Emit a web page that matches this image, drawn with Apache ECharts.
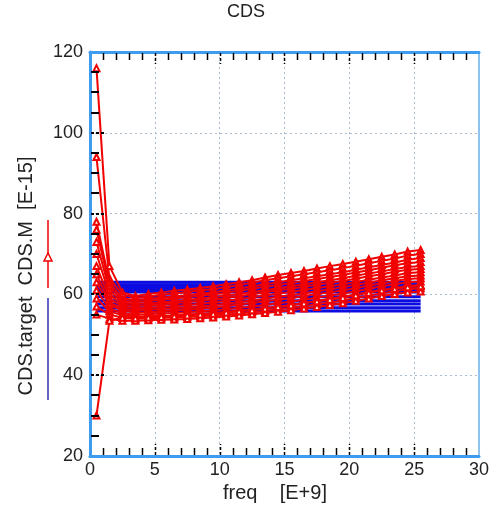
<!DOCTYPE html>
<html><head><meta charset="utf-8">
<script src="https://cdn.jsdelivr.net/npm/echarts@6/dist/echarts.min.js"></script>
<style>html,body{margin:0;padding:0;background:#fff}#c{width:492px;height:510px}</style>
</head><body><div id="c"></div><script>
// ---- data ----
const freq = [0.5,1.5,2.5,3.5,4.5,5.5,6.5,7.5,8.5,9.5,10.5,11.5,12.5,13.5,14.5,15.5,16.5,17.5,18.5,19.5,20.5,21.5,22.5,23.5,24.5,25.5];
const mA = [116,67,60.5, 59.6,60.1,60.5,60.9,61.2,61.6,62.0,62.5,63.0,63.5,64.2,64.8,65.3,65.8,66.4,67.0,67.5,68.1,68.7,69.3,69.9,70.6,71.0];
const mB = [94,64,60, 59.1,59.5,59.9,60.2,60.6,61.0,61.3,61.8,62.3,62.9,63.5,64.0,64.5,65.0,65.5,66.0,66.5,67.1,67.7,68.3,68.9,69.6,70.0];
const mC = [78,63,59, 58.6,58.9,59.2,59.5,59.8,60.2,60.5,61.0,61.5,62.0,62.5,63.0,63.5,64.0,64.5,65.0,65.5,66.1,66.7,67.3,67.9,68.6,69.0];
const mD = [76,62,58.5, 58.1,58.4,58.7,59.0,59.3,59.7,60.0,60.4,60.9,61.4,61.9,62.3,62.8,63.3,63.8,64.3,64.8,65.4,66.0,66.6,67.2,67.7,68.0];
const mE = [73,61,58, 57.6,57.8,58.0,58.3,58.6,59.0,59.3,59.7,60.1,60.6,61.0,61.5,62.0,62.5,63.0,63.5,64.0,64.6,65.2,65.7,66.3,66.8,67.0];
const mF = [70,60,57.5, 57.1,57.3,57.5,57.8,58.1,58.4,58.7,59.1,59.6,60.0,60.5,61.0,61.4,61.9,62.4,62.9,63.3,63.9,64.5,65.0,65.6,66.1,66.3];
const mG = [67,59,57, 56.5,56.7,56.9,57.1,57.4,57.7,58.0,58.4,58.8,59.3,59.7,60.2,60.6,61.1,61.6,62.0,62.5,63.1,63.6,64.2,64.7,65.3,65.5];
const mH = [65,58,56.5, 56.0,56.2,56.4,56.6,56.8,57.0,57.3,57.7,58.1,58.5,58.9,59.4,59.8,60.3,60.8,61.3,61.8,62.4,62.9,63.5,64.0,64.5,64.7];
const mI = [63,57.5,56, 55.5,55.6,55.8,56.0,56.2,56.5,56.7,57.1,57.5,57.9,58.3,58.7,59.1,59.6,60.1,60.5,61.0,61.6,62.2,62.7,63.3,63.8,64.0];
const mJ = [61,56.5,55.3, 55.0,55.1,55.3,55.4,55.6,55.8,56.0,56.3,56.7,57.0,57.4,57.8,58.2,58.7,59.2,59.7,60.2,60.8,61.4,62.0,62.5,63.0,63.2];
const mK = [59,55.8,54.8, 54.5,54.6,54.7,54.8,55.0,55.2,55.4,55.7,56.0,56.3,56.6,57.0,57.4,57.9,58.4,58.9,59.4,60.0,60.6,61.1,61.6,62.1,62.3];
const mL = [57,55,54.2, 54.0,54.1,54.2,54.3,54.4,54.6,54.8,55.0,55.3,55.6,55.9,56.3,56.7,57.1,57.6,58.0,58.5,59.1,59.7,60.3,60.8,61.3,61.5];
const mM = [55,54,53.5, 53.5,53.6,53.7,53.8,53.9,54.1,54.3,54.5,54.8,55.1,55.4,55.7,56.1,56.5,56.9,57.4,57.8,58.4,59.0,59.6,60.1,60.5,60.7];
const mN = [30,53.5,54.2, 54.1,54.3,54.4,54.6,54.8,55.0,55.2,55.5,55.8,56.1,56.5,56.9,57.3,57.8,58.3,58.7,59.2,59.8,60.4,61.0,61.4,61.8,62.0];
const cdsM = [mA,mB,mC,mD,mE,mF,mG,mH,mI,mJ,mK,mL,mM,mN];
const targetFreq = [0.5, 25.5];
const cdsTarget = [55.9,56.7,57.6,58.4,59.4,60.6,61.2,61.8,62.4,63.0];
const xTicks = [0,5,10,15,20,25,30];
const yTicks = [20,40,60,80,100,120];

const FONT = "'Liberation Sans', Arial, sans-serif";
const RED = '#f00000', BLUE = '#0c0ce0', FRAME = '#3d9bf0';

const series = [];
cdsTarget.forEach(v => {
  series.push({type:'line', name:'CDS.target', data: targetFreq.map(f => [f, v]),
    showSymbol:false, lineStyle:{color:BLUE, width:3}, itemStyle:{color:BLUE}, z:2, silent:true});
});
cdsM.forEach(arr => {
  series.push({type:'line', name:'CDS.M', data: freq.map((f,i) => [f, arr[i]]).filter(p => p[1] != null),
    symbol:'emptyTriangle', symbolSize:6, showSymbol:true,
    lineStyle:{color:RED, width:2}, itemStyle:{color:RED, borderColor:RED, borderWidth:2}, z:3, silent:true});
});

const chart = echarts.init(document.getElementById('c'), null, {renderer:'canvas'});
chart.setOption({
  animation:false,
  backgroundColor:'#fff',
  grid:{left:90, top:52, right:10, bottom:54, containLabel:false},
  xAxis:[{
    type:'value', min:xTicks[0], max:xTicks[xTicks.length-1], interval:5, position:'bottom',
    axisLine:{show:true, onZero:false, lineStyle:{color:FRAME, width:3}},
    axisTick:{show:false},
    axisLabel:{color:'#222', fontSize:18, fontFamily:FONT, margin:5},
    splitLine:{show:true, lineStyle:{color:'#a9bccf', width:1, type:[2,3]}}
  },{
    type:'value', min:xTicks[0], max:xTicks[xTicks.length-1], interval:5, position:'top',
    axisLine:{show:true, onZero:false, lineStyle:{color:FRAME, width:3}},
    axisTick:{show:false}, axisLabel:{show:false}, splitLine:{show:false}
  }],
  yAxis:[{
    type:'value', min:yTicks[0], max:yTicks[yTicks.length-1], interval:20, position:'left',
    axisLine:{show:true, onZero:false, lineStyle:{color:FRAME, width:3}},
    axisTick:{show:false},
    axisLabel:{color:'#222', fontSize:18, fontFamily:FONT, margin:7},
    splitLine:{show:true, lineStyle:{color:'#a9bccf', width:1, type:[2,3]}}
  },{
    type:'value', min:yTicks[0], max:yTicks[yTicks.length-1], interval:20, position:'right',
    axisLine:{show:true, onZero:false, lineStyle:{color:'#8fc3ef', width:2}},
    axisTick:{show:false}, axisLabel:{show:false}, splitLine:{show:false}
  }],
  series: series
});

// ticks drawn through the axes' own scales
const gfx = [];
const xMin = xTicks[0], xMax = xTicks[xTicks.length-1];
const yMin = yTicks[0], yMax = yTicks[yTicks.length-1];
for (let v = xMin + 1; v < xMax; v += 1) {
  const pb = chart.convertToPixel({gridIndex:0}, [v, yMin]);
  const pt = chart.convertToPixel({gridIndex:0}, [v, yMax]);
  const px = Math.round(pb[0]) + 0.5;
  const major = v % 5 === 0;
  const len = major ? 11 : 7;
  const st = {stroke:'#000', lineWidth:1.5, lineDash: major ? [3,2] : null};
  gfx.push({type:'line', z:50, shape:{x1:px, y1:pb[1]-1, x2:px, y2:pb[1]-1-len}, style:st});
  gfx.push({type:'line', z:50, shape:{x1:px, y1:pt[1]+1, x2:px, y2:pt[1]+1+len}, style:st});
}
for (let v = yMin + 5; v < yMax; v += 5) {
  const p = chart.convertToPixel({gridIndex:0}, [xMin, v]);
  const x0 = Math.round(p[0]) + 1, y0 = Math.round(p[1]) - 1;
  const major = v % 20 === 0;
  if (major) {
    [0, 5, 10].forEach(d => gfx.push({type:'rect', z:50, shape:{x:x0 + d, y:y0, width:3, height:2}, style:{fill:'#000'}}));
  } else {
    gfx.push({type:'rect', z:50, shape:{x:x0, y:y0, width:8, height:2}, style:{fill:'#000'}});
  }
}
gfx.push(
  {type:'text', left:'center', top:3, style:{text:'CDS', font:'18px '+FONT, fill:'#222'}},
  {type:'text', x:275, y:493, style:{text:'freq    [E+9]', font:'20px '+FONT, fill:'#222', textAlign:'center', textVerticalAlign:'middle'}},
  {type:'text', x:26, y:276, rotation:Math.PI/2, style:{text:'CDS.target  CDS.M  [E-15]', font:'20px '+FONT, fill:'#222', textAlign:'center', textVerticalAlign:'middle'}},
  {type:'line', shape:{x1:48, y1:220, x2:48, y2:288}, style:{stroke:RED, lineWidth:1.5}},
  {type:'polygon', shape:{points:[[48,253],[44,261],[52,261]]}, style:{fill:'#fff', stroke:RED, lineWidth:1.5}},
  {type:'line', shape:{x1:48, y1:298, x2:48, y2:400}, style:{stroke:'#3030b0', lineWidth:1.5}}
);
chart.setOption({graphic: gfx});
</script></body></html>
